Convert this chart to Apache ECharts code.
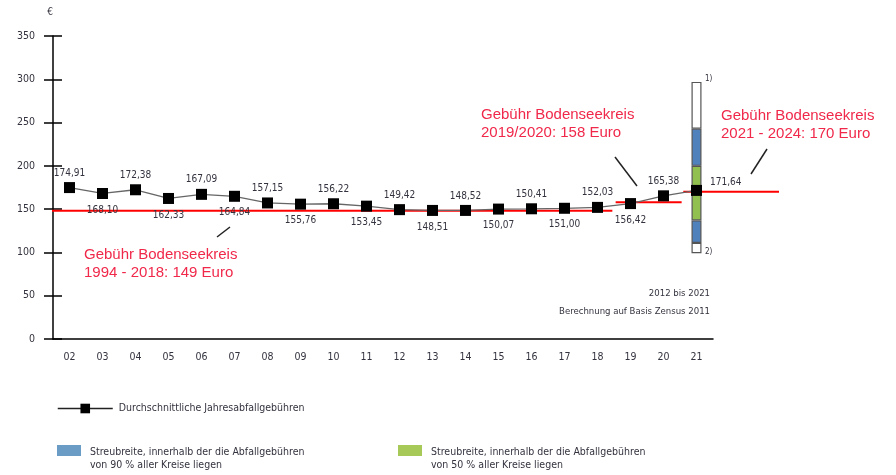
<!DOCTYPE html>
<html>
<head>
<meta charset="utf-8">
<script src="https://cdn.jsdelivr.net/npm/echarts@6/dist/echarts.min.js"></script>
<style>
html,body{margin:0;padding:0;background:#fff;}
#chart{width:896px;height:475px;}
</style>
</head>
<body>
<div id="chart"></div>
<script>
// ---- data ----
const years = ['02','03','04','05','06','07','08','09','10','11','12','13','14','15','16','17','18','19','20','21'];
const avgFees = [174.91,168.10,172.38,162.33,167.09,164.84,157.15,155.76,156.22,153.45,149.42,148.51,148.52,150.07,150.41,151.00,152.03,156.42,165.38,171.64];
const yTicks = [0,50,100,150,200,250,300,350];
// spread of fees in year 21: [min, 5%, 25%, 75%, 95%, max]
const spreadCategory = '21';
const spreadLevels = [99,111,137,200,243,297];
// Bodensee district fee levels (Euro) and their spans in category units
const districtFee = [148,158,170];
const districtSpanStart = [-0.15,17.05,19.1];
const districtSpanEnd = [16.95,19.05,22];
const districtText = [
  'Gebühr Bodenseekreis\n1994 - 2018: 149 Euro',
  'Gebühr Bodenseekreis\n2019/2020: 158 Euro',
  'Gebühr Bodenseekreis\n2021 - 2024: 170 Euro'
];
const lineName = 'Durchschnittliche Jahresabfallgebühren';
const blueName = 'Streubreite, innerhalb der die Abfallgebühren\nvon 90 % aller Kreise liegen';
const greenName = 'Streubreite, innerhalb der die Abfallgebühren\nvon 50 % aller Kreise liegen';

// ---- build ----
const FONT = "'Liberation Sans Narrow','DejaVu Sans Condensed','Liberation Sans',Arial,sans-serif";
const TXT = '#33333f';
const fmt = v => v.toFixed(2).replace('.', ',');

const lineData = avgFees.map((v, i) => {
  let label;
  if (i === avgFees.length - 1) label = {position:'right', distance:8, offset:[0,-8]};
  else if (i % 2 === 0) label = {position:'top', distance:4};
  else label = {position:'bottom', distance:6};
  return {value: v, label};
});

const spreadIdx = years.indexOf(spreadCategory);
const seg = k => years.map((y, i) => i === spreadIdx ? (k === 0 ? spreadLevels[0] : spreadLevels[k] - spreadLevels[k-1]) : '-');
const segSeries = [
  {name:'base', color:'transparent', k:0, border:0},
  {name:'low', color:'#ffffff', k:1},
  {name:blueName, color:'#4f81bd', k:2},
  {name:greenName, color:'#92c050', k:3},
  {name:blueName, color:'#4f81bd', k:4},
  {name:'high', color:'#ffffff', k:5}
].map(s => ({
  type:'bar', name:s.name, stack:'spread', barWidth:10, z:2,
  xAxisIndex:0, yAxisIndex:0, silent:true,
  itemStyle:{color:s.color, borderColor: s.border === 0 ? 'transparent' : '#555', borderWidth: s.border === 0 ? 0 : 1.2},
  data: seg(s.k)
}));

const redSeries = districtFee.map((v, i) => ({
  type:'line', xAxisIndex:1, yAxisIndex:2, clip:false, symbol:'none', silent:true, z:4,
  lineStyle:{color:'#ff0000', width:2},
  data:[[districtSpanStart[i], v],[districtSpanEnd[i], v]]
}));

const swatchPath = 'path://M0,0H24V11H0Z M24,27L24,27';

const chart = echarts.init(document.getElementById('chart'), null, {renderer:'canvas'});
chart.setOption({
  animation:false,
  backgroundColor:'#fff',
  textStyle:{fontFamily:FONT},
  grid:[
    {left:53, right:183, top:36, bottom:136},
    {left:53, right:117, top:36, bottom:136}
  ],
  xAxis:[
    {type:'category', gridIndex:0, data:years, boundaryGap:true,
     axisLine:{lineStyle:{color:'#000', width:1.5}},
     axisTick:{inside:true, length:7, interval:0, lineStyle:{color:'#000', width:1.5}},
     axisLabel:{color:TXT, fontSize:10.5, fontFamily:FONT, margin:13, interval:0}},
    {type:'value', gridIndex:1, min:0, max:22, show:false}
  ],
  yAxis:[
    {type:'value', gridIndex:0, min:0, max:350, interval:50,
     name:'€', nameLocation:'end', nameGap:19, nameTextStyle:{color:TXT, fontSize:10, fontFamily:FONT, align:'center', padding:[0,6,0,0]},
     axisLine:{show:true, lineStyle:{color:'#000', width:1.5}},
     axisTick:{show:true, inside:false, length:9, lineStyle:{color:'#000', width:1.5}},
     axisLabel:{color:TXT, fontSize:10.5, fontFamily:FONT, margin:18, formatter: v => yTicks.includes(v) ? String(v) : ''},
     splitLine:{show:false}},
    {type:'value', gridIndex:0, min:0, max:350, interval:50, position:'left',
     axisLine:{show:false},
     axisTick:{show:true, inside:true, length:9, lineStyle:{color:'#000', width:1.5}},
     axisLabel:{show:false}, splitLine:{show:false}},
    {type:'value', gridIndex:1, min:0, max:350, show:false}
  ],
  legend:[
    {data:[lineName], left:57, top:403, padding:0, itemWidth:55, itemHeight:12, selectedMode:false,
     lineStyle:{color:'#222', width:1.5},
     textStyle:{color:TXT, fontSize:10.5, fontFamily:FONT, padding:[0,0,0,1]}},
    {data:[{name:blueName, icon:swatchPath, itemStyle:{color:'#6b9cc6', borderWidth:0}}],
     left:57, top:445, padding:0, itemWidth:24, itemHeight:27, itemGap:8, selectedMode:false,
     textStyle:{color:TXT, fontSize:10.5, fontFamily:FONT, lineHeight:13, padding:[0,0,0,4]}},
    {data:[{name:greenName, icon:swatchPath, itemStyle:{color:'#a6c957', borderWidth:0}}],
     left:398, top:445, padding:0, itemWidth:24, itemHeight:27, selectedMode:false,
     textStyle:{color:TXT, fontSize:10.5, fontFamily:FONT, lineHeight:13, padding:[0,0,0,4]}}
  ],
  series:[
    ...segSeries,
    ...redSeries,
    {type:'line', name:lineName, xAxisIndex:0, yAxisIndex:0, z:5,
     symbol:'rect', symbolSize:11, showAllSymbol:true,
     itemStyle:{color:'#000'},
     lineStyle:{color:'#666', width:1.3},
     label:{show:true, color:TXT, fontSize:10, fontFamily:FONT, formatter: p => fmt(p.value)},
     data:lineData}
  ],
  graphic:[
    {type:'text', left:84, top:246, z:10, style:{text:districtText[0], fill:'#f0284a', font:"15px 'Liberation Sans',Arial,sans-serif", lineHeight:18}},
    {type:'text', left:481, top:106, z:10, style:{text:districtText[1], fill:'#f0284a', font:"15px 'Liberation Sans',Arial,sans-serif", lineHeight:18}},
    {type:'text', left:721, top:107, z:10, style:{text:districtText[2], fill:'#f0284a', font:"15px 'Liberation Sans',Arial,sans-serif", lineHeight:18}},
    {type:'line', z:10, shape:{x1:217, y1:237, x2:230, y2:227}, style:{stroke:'#222', lineWidth:1.5}},
    {type:'line', z:10, shape:{x1:615, y1:157, x2:637, y2:186}, style:{stroke:'#222', lineWidth:1.5}},
    {type:'line', z:10, shape:{x1:751, y1:174, x2:767, y2:149}, style:{stroke:'#222', lineWidth:1.5}},
    {type:'text', right:186, top:289, z:10, style:{text:'2012 bis 2021', fill:TXT, font:"9.5px "+FONT, textAlign:'right'}},
    {type:'text', right:186, top:307, z:10, style:{text:'Berechnung auf Basis Zensus 2011', fill:TXT, font:"9.5px "+FONT, textAlign:'right'}},
    {type:'text', left:705, top:75, z:10, style:{text:'1)', fill:TXT, font:"8px "+FONT}},
    {type:'text', left:705, top:248, z:10, style:{text:'2)', fill:TXT, font:"8px "+FONT}}
  ]
});
</script>
</body>
</html>
